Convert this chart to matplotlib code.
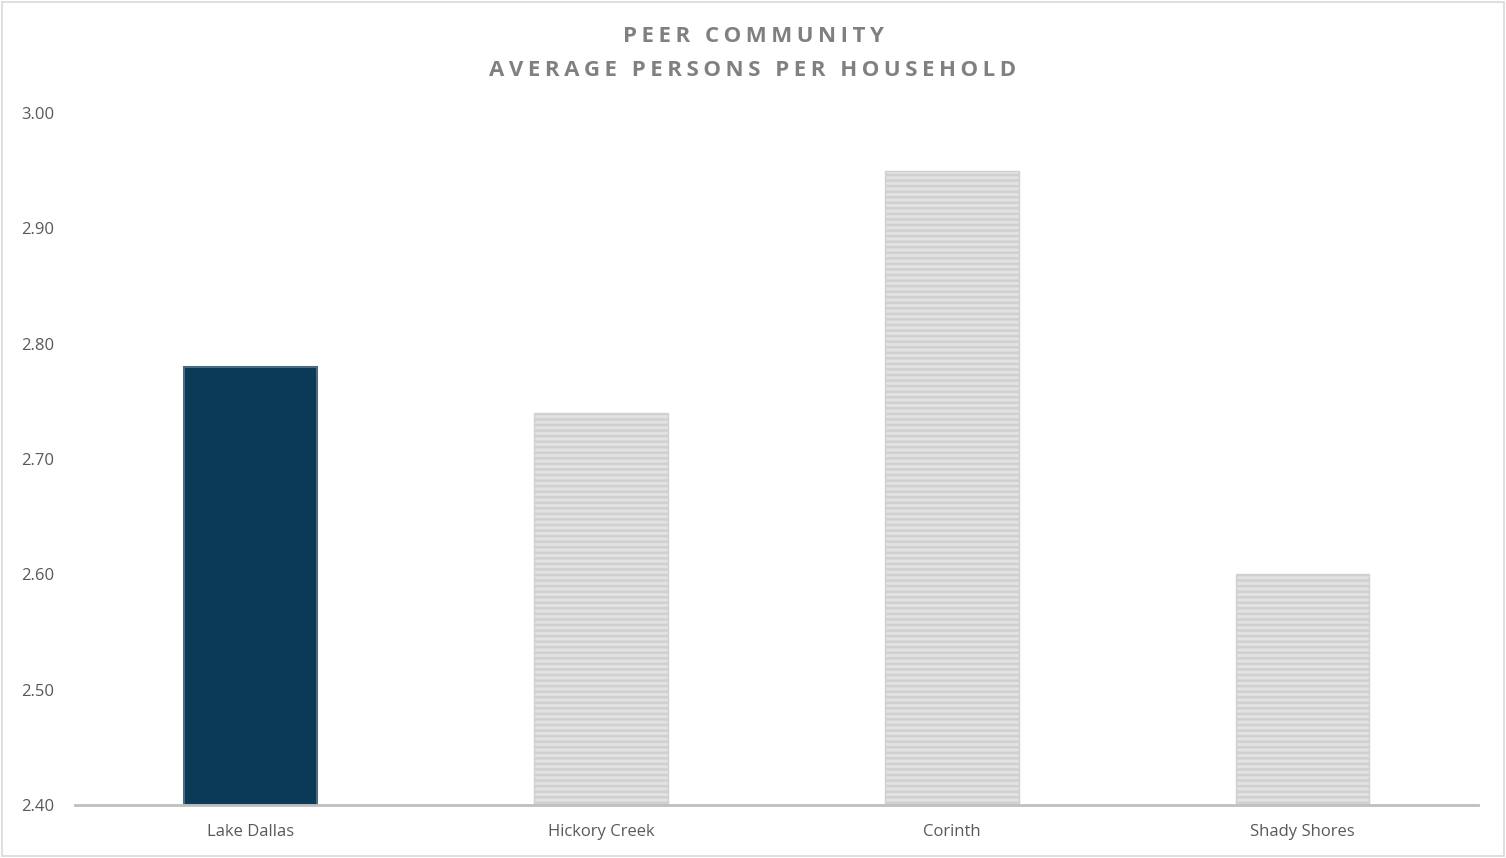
import matplotlib.pyplot as plt
import matplotlib.patches as mpatches

communities = ['Lake Dallas', 'Hickory Creek', 'Corinth', 'Shady Shores']
persons_per_household = [2.78, 2.74, 2.95, 2.60]
y_ticks = [2.40, 2.50, 2.60, 2.70, 2.80, 2.90, 3.00]
title_lines = ['PEER COMMUNITY', 'AVERAGE PERSONS PER HOUSEHOLD']

plt.rcParams['font.family'] = ['Open Sans', 'DejaVu Sans']
plt.rcParams['hatch.color'] = '#999999'
plt.rcParams['hatch.linewidth'] = 1.8

fig = plt.figure(figsize=(15.06, 8.58), dpi=100)
ax = fig.add_axes([75 / 1506, 1 - 805 / 858, (1478 - 75) / 1506, (805 - 113) / 858])

base = y_ticks[0]
for i, (name, val) in enumerate(zip(communities, persons_per_household)):
    if i == 0:
        ax.bar(i, val - base, bottom=base, width=0.38, color='#0b3a57',
               edgecolor='#4a6b82', linewidth=1.5)
    else:
        ax.bar(i, val - base, bottom=base, width=0.38, color='#e2e2e2',
               edgecolor='#d0d0d0', linewidth=1.0, hatch='---')

ax.set_ylim(2.40, 3.00)
ax.set_xlim(-0.5, 3.5)
ax.set_yticks(y_ticks)
ax.set_yticklabels([f'{t:.2f}' for t in y_ticks])
ax.set_xticks(range(len(communities)))
ax.set_xticklabels(communities)
ax.tick_params(axis='both', length=0, labelsize=12, colors='#595959')
ax.tick_params(axis='x', pad=14)
ax.tick_params(axis='y', pad=15)
for side in ['top', 'right', 'left']:
    ax.spines[side].set_visible(False)
ax.spines['bottom'].set_color('#bfbfbf')
ax.spines['bottom'].set_linewidth(2)

# letter-spaced title
for line, ypix in zip(title_lines, [37, 71]):
    spaced = '\u2009'.join(line)
    fig.text(0.5, 1 - ypix / 858, spaced, ha='center', va='center',
             fontsize=16, fontweight='bold', color='#808080')

fig.patches.append(mpatches.Rectangle((2 / 1506, 2 / 858), 1 - 4 / 1506, 1 - 4 / 858,
                                      transform=fig.transFigure, fill=False,
                                      edgecolor='#d9d9d9', linewidth=1.2))

fig.savefig('out.png', dpi=100)
